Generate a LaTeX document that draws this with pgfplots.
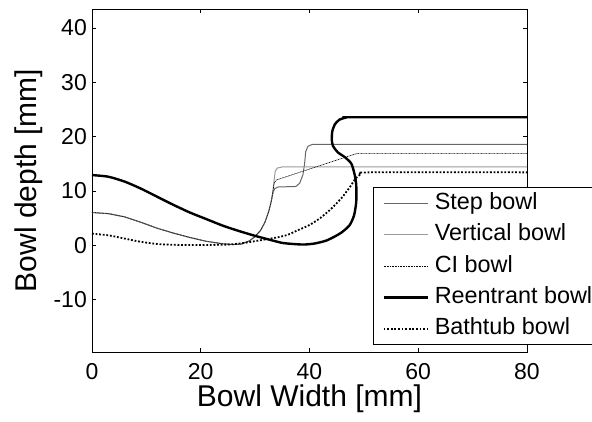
\documentclass[border=0pt]{standalone}
\usepackage{fontspec}
\setmainfont{Liberation Sans}
\usepackage{pgfplots}
\pgfplotsset{compat=1.18}
\usetikzlibrary{calc}
\newcommand{\lf}{\fontsize{23.4}{27}\selectfont}
\begin{document}
\fontsize{23}{27}\selectfont
\begin{tikzpicture}
\begin{axis}[name=ax, scale only axis, width=435pt, height=343pt,
 xmin=0, xmax=80, ymin=-19.7, ymax=43.5,
 xtick={0,20,...,80}, ytick={-10,0,...,40},
 tick align=inside, tick pos=both, major tick length=4pt,
 axis line style={line width=0.9pt},
 every tick/.style={black, line width=0.6pt},
 /pgf/number format/assume math mode=true,
 tick label style={font=\fontsize{23}{27}\selectfont, inner sep=0pt},
 xticklabel style={yshift=-11pt},
 yticklabel style={xshift=-5pt},
 xlabel={Bowl Width [mm]},
 ylabel={Bowl depth [mm]},
 xlabel style={at={(axis description cs:0.5,0)}, anchor=base, yshift=-54pt, font=\fontsize{30}{34}\selectfont},
 ylabel style={at={(axis description cs:0,0.5)}, anchor=base, yshift=55.5pt, font=\fontsize{30}{34}\selectfont},
 legend image code/.code={\draw[#1] (0pt,0pt) -- (44pt,0pt);},
 legend style={at={(axis description cs:0.646,0.0204)}, anchor=south west,
   draw=black, line width=0.8pt, fill=white, inner xsep=9pt, inner ysep=0pt,
   row sep=0pt, column sep=6pt,
   cells={anchor=west},
   nodes={inner xsep=0pt, inner ysep=4.7pt, text height=17pt, text depth=5pt}},
]
% Step bowl
\addplot[color=black!60, line width=1pt] coordinates {
(0,6.0)(3,5.8)(6,5.2)(9,4.2)(12,3.1)(15,2.2)(18,1.4)(21,0.7)(24,0.25)(26,0.1)(27.5,0.2)(29,0.8)(30,1.6)(31,2.7)(31.8,4.2)(32.5,6.2)(33,8.2)(33.3,9.7)(33.6,10.4)(34.2,10.7)(37.5,10.8)(38.2,11.4)(38.8,13)(39.1,15)(39.3,17.2)(39.7,18.2)(40.5,18.55)(80,18.55)};
\addlegendentry{\lf Step bowl}
% Vertical bowl
\addplot[color=black!40, line width=1pt] coordinates {
(0,6.0)(3,5.8)(6,5.2)(9,4.2)(12,3.1)(15,2.2)(18,1.4)(21,0.7)(24,0.25)(26,0.1)(27.5,0.2)(29,0.8)(30,1.6)(31,2.7)(31.8,4.2)(32.5,6.2)(33,8.2)(33.3,10.1)(33.5,12)(33.7,13.6)(34.1,14.2)(35,14.4)(80,14.4)};
\addlegendentry{\lf Vertical bowl}
% CI bowl
\addplot[color=black, line width=0.6pt, dash pattern=on 1pt off 0.6pt] coordinates {
(0,6.0)(3,5.8)(6,5.2)(9,4.2)(12,3.1)(15,2.2)(18,1.4)(21,0.7)(24,0.25)(26,0.1)(27.5,0.2)(29,0.8)(30,1.6)(31,2.7)(31.8,4.2)(32.5,6.2)(33,8.2)(33.3,10.1)(33.5,11.4)(33.9,12.0)(48.3,16.75)(49,16.9)(80,16.9)};
\addlegendentry{\lf CI bowl}
% Reentrant bowl
\addplot[color=black, line width=2.4pt, smooth, tension=0.4] coordinates {
(0,12.9)(3,12.6)(6,11.7)(9,10.4)(12,8.9)(15,7.4)(18,6.0)(21,4.8)(24,3.6)(27,2.6)(30,1.7)(33,0.9)(35,0.4)(37,0.2)(39,0.1)(41,0.3)(43,0.8)(44.5,1.5)(46,2.4)(47.4,3.7)(48.2,5.5)(48.6,8)(48.6,11)(48.3,13)(47.7,15)(46.5,16.2)(45.2,17.1)(44.3,18.3)(44.1,19.5)(44.2,21)(44.7,22.3)(45.5,23.1)(46.7,23.5)(48,23.55)(80,23.55)};
\addlegendentry{\lf Reentrant bowl}
% Bathtub bowl
\addplot[color=black, line width=1.8pt, dash pattern=on 1.8pt off 1.8pt, smooth, tension=0.4] coordinates {
(0,2.1)(3,1.8)(6,1.2)(9,0.6)(12,0.2)(15,0.05)(20,0)(25,0.1)(28,0.4)(31,0.9)(34,1.4)(36,1.9)(38,2.8)(40,3.7)(42,5)(44,6.7)(46,8.8)(47.5,10.8)(48.5,12.3)(49.5,13.1)(51,13.4)(80,13.4)};
\addlegendentry{\lf Bathtub bowl}
\end{axis}
\pgfresetboundingbox
\path[use as bounding box] ($(ax.south west)+(-92pt,-69pt)$) rectangle ($(ax.south west)+(500pt,352pt)$);
\end{tikzpicture}
\end{document}
